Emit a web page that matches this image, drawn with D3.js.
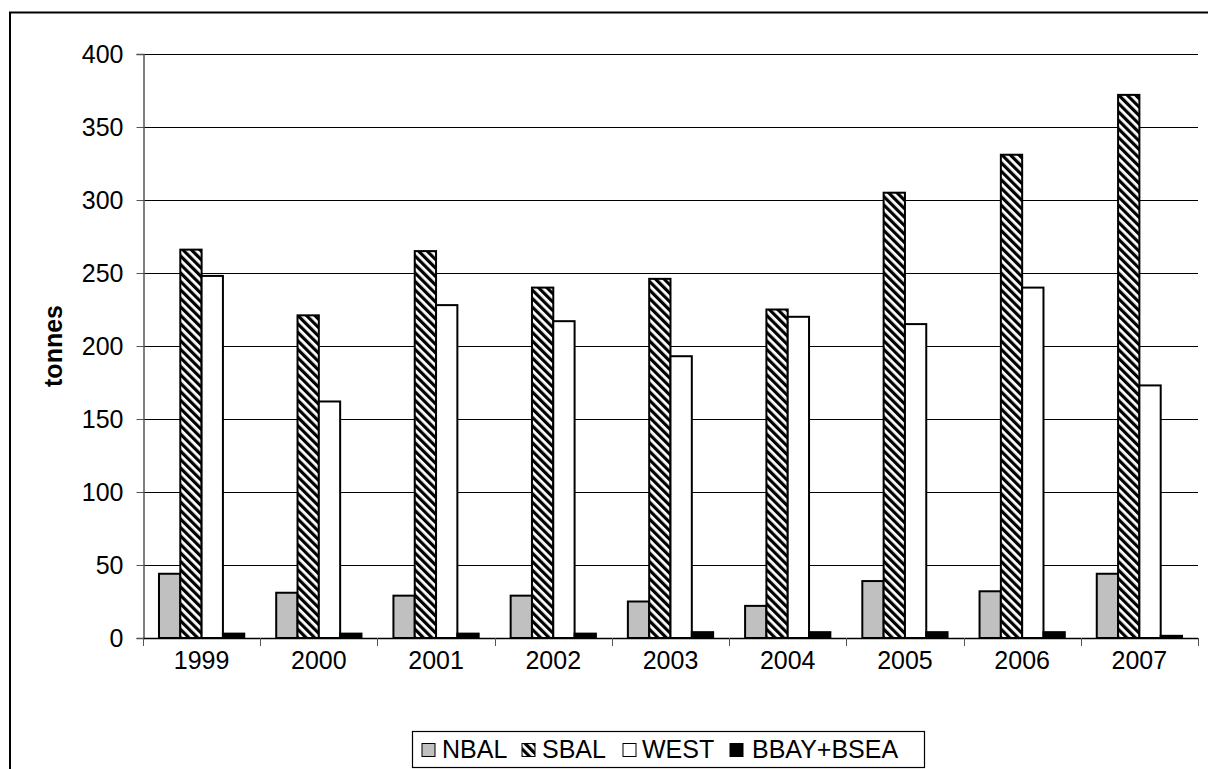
<!DOCTYPE html>
<html>
<head>
<meta charset="utf-8">
<script src="https://cdn.jsdelivr.net/npm/d3@7"></script>
<style>
  html, body { margin: 0; padding: 0; background: #fff; }
  svg { display: block; font-family: "Liberation Sans", Arial, sans-serif; }
</style>
</head>
<body>
<svg id="chart" width="1208" height="769"></svg>
<script>
// Catch by area and year (tonnes)
const years = ["1999", "2000", "2001", "2002", "2003", "2004", "2005", "2006", "2007"];
const seriesNames = ["NBAL", "SBAL", "WEST", "BBAY+BSEA"];
const nbal = [44, 31, 29, 29, 25, 22, 39, 32, 44];
const sbal = [266, 221, 265, 240, 246, 225, 305, 331, 372];
const west = [248, 162, 228, 217, 193, 220, 215, 240, 173];
const bbay = [3, 3, 3, 3, 4, 4, 4, 4, 1.5];
const yTicks = [0, 50, 100, 150, 200, 250, 300, 350, 400];

const seriesValues = [nbal, sbal, west, bbay];

const svg = d3.select("#chart");
const W = 1208, H = 769;
const plot = { left: 143, right: 1198, top: 54, bottom: 638 };
const FONT = 25;

// Diagonal hatch for SBAL
const defs = svg.append("defs");
const hatch = defs.append("pattern")
  .attr("id", "hatch")
  .attr("patternUnits", "userSpaceOnUse")
  .attr("width", 6).attr("height", 6)
  .attr("patternTransform", "rotate(-45)");
hatch.append("rect").attr("width", 6).attr("height", 6).attr("fill", "#fff");
hatch.append("rect").attr("width", 3.2).attr("height", 6).attr("fill", "#000");

const fills = ["#c0c0c0", "url(#hatch)", "#ffffff", "#000000"];

// Outer chart frame
svg.append("rect")
  .attr("x", 10).attr("y", 12.5)
  .attr("width", W + 10).attr("height", H + 10)
  .attr("fill", "none").attr("stroke", "#000").attr("stroke-width", 2);

const x0 = d3.scaleBand().domain(years).range([plot.left, plot.right]).paddingInner(0).paddingOuter(0);
const innerPad = 1.5 / 5.5 / 2;
const x1 = d3.scaleBand().domain(seriesNames)
  .range([x0.bandwidth() * innerPad, x0.bandwidth() * (1 - innerPad)]);
const y = d3.scaleLinear().domain([0, 400]).range([plot.bottom, plot.top]);

// Gridlines
svg.append("g")
  .selectAll("line")
  .data(yTicks.filter(d => d > 0))
  .join("line")
  .attr("x1", plot.left).attr("x2", plot.right)
  .attr("y1", d => Math.round(y(d)) + 0.5).attr("y2", d => Math.round(y(d)) + 0.5)
  .attr("stroke", "#000").attr("stroke-width", 1);

// Y axis
const yAxis = d3.axisLeft(y).tickValues(yTicks).tickSize(7).tickPadding(13).tickFormat(d3.format("d"));
const gy = svg.append("g").attr("transform", `translate(${plot.left + 0.5},0)`).call(yAxis);
gy.select(".domain").attr("stroke", "#555").attr("stroke-width", 1.5);
gy.selectAll(".tick line").attr("stroke", "#555").attr("stroke-width", 1);
gy.selectAll("text").attr("font-size", FONT).attr("fill", "#000").attr("font-family", "Liberation Sans, Arial, sans-serif");

// Bars
const groups = svg.append("g").selectAll("g")
  .data(years)
  .join("g")
  .attr("transform", d => `translate(${x0(d)},0)`);

groups.selectAll("rect")
  .data((d, i) => seriesNames.map((s, k) => ({ s, k, v: seriesValues[k][i] })))
  .join("rect")
  .attr("x", d => x1(d.s))
  .attr("y", d => y(d.v))
  .attr("width", x1.bandwidth())
  .attr("height", d => y(0) - y(d.v))
  .attr("fill", d => fills[d.k])
  .attr("stroke", "#000")
  .attr("stroke-width", 2);

// X axis
const xTicksG = svg.append("g");
xTicksG.append("line")
  .attr("x1", plot.left).attr("x2", plot.right)
  .attr("y1", plot.bottom + 0.5).attr("y2", plot.bottom + 0.5)
  .attr("stroke", "#000").attr("stroke-width", 1.5);
const bounds = years.map(d => x0(d)).concat([plot.right]);
xTicksG.selectAll("line.tk")
  .data(bounds)
  .join("line")
  .attr("class", "tk")
  .attr("x1", d => Math.round(d) + 0.5).attr("x2", d => Math.round(d) + 0.5)
  .attr("y1", plot.bottom).attr("y2", plot.bottom + 8)
  .attr("stroke", "#555").attr("stroke-width", 1);
xTicksG.selectAll("text")
  .data(years)
  .join("text")
  .attr("x", d => x0(d) + x0.bandwidth() / 2)
  .attr("y", 669)
  .attr("text-anchor", "middle")
  .attr("font-size", FONT)
  .text(d => d);

// Y axis title
svg.append("text")
  .attr("transform", `translate(62,346) rotate(-90)`)
  .attr("text-anchor", "middle")
  .attr("font-size", FONT)
  .attr("font-weight", "bold")
  .text("tonnes");

// Legend
const legend = svg.append("g");
legend.append("rect")
  .attr("x", 412.5).attr("y", 731.5)
  .attr("width", 512).attr("height", 36)
  .attr("fill", "#fff").attr("stroke", "#000").attr("stroke-width", 1.2);
const swatchX = [422, 522, 623, 730];
const labelX = [442, 542, 642, 752];
const items = legend.selectAll("g.item")
  .data(seriesNames)
  .join("g")
  .attr("class", "item");
items.append("rect")
  .attr("x", (d, i) => swatchX[i]).attr("y", 743.5)
  .attr("width", 13).attr("height", 13)
  .attr("fill", (d, i) => fills[i])
  .attr("stroke", "#000").attr("stroke-width", 1);
items.append("text")
  .attr("x", (d, i) => labelX[i]).attr("y", 758)
  .attr("font-size", FONT)
  .text(d => d);
</script>
</body>
</html>
